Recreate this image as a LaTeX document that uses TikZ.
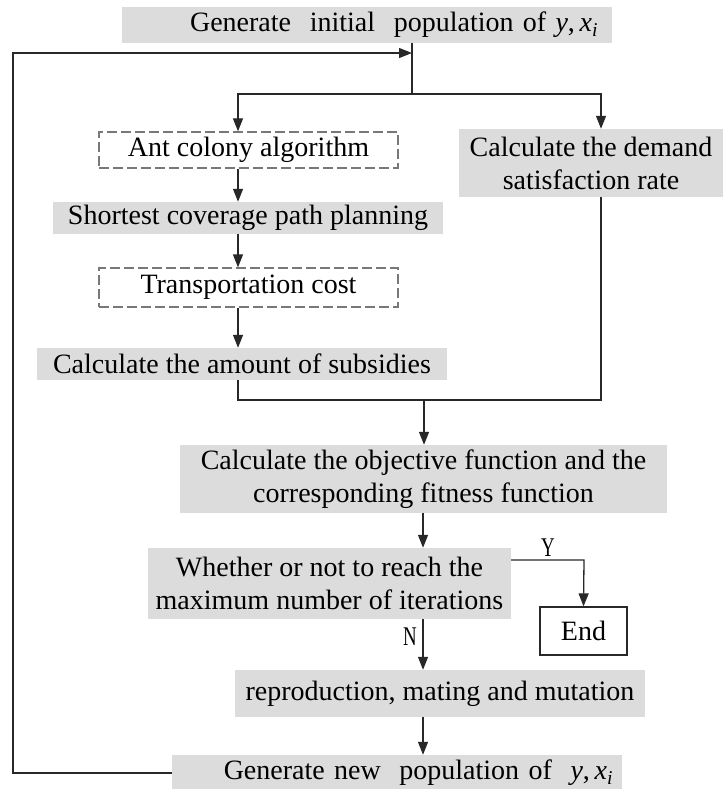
\documentclass[tikz,border=0pt]{standalone}
\usepackage{fontspec}
\usepackage{graphicx}
\setmainfont{Liberation Serif}
\usetikzlibrary{arrows.meta}
\definecolor{boxgray}{RGB}{220,220,220}
\definecolor{dashgray}{RGB}{120,120,120}
\definecolor{linec}{RGB}{40,40,40}
\begin{document}
\begin{tikzpicture}[x=1pt,y=-1pt,
  every node/.style={font=\fontsize{28}{33}\selectfont, inner sep=0pt},
  gbox/.style={fill=boxgray, draw=none, align=center},
  dbox/.style={draw=dashgray, dash pattern=on 10pt off 4pt, line width=1.3pt, align=center},
  ebox/.style={draw=linec, line width=1.3pt},
  conn/.style={draw=linec, line width=1.3pt},
  arr/.style={conn, -{Triangle[length=13pt,width=10pt]}},
  yn/.style={font=\fontsize{27}{28}\selectfont}]
\useasboundingbox (0,0) rectangle (723,789);

% nodes
\node[gbox, minimum width=490pt, minimum height=36pt, inner xsep=14pt, text width=462pt, align=right] (top) at (367,25)
  {Generate\ \ initial\ \ population of \textit{y},\,\textit{x}\textsubscript{\textit{i}}};
\node[dbox, minimum width=299pt, minimum height=36pt] (ant) at (248.5,150) {Ant colony algorithm};
\node[gbox, minimum width=390pt, minimum height=32pt] (short) at (248,218) {Shortest coverage path planning};
\node[dbox, minimum width=299pt, minimum height=39pt] (trans) at (248.5,287.5) {Transportation cost};
\node[gbox, minimum width=410pt, minimum height=32pt] (subs) at (242,364) {Calculate the amount of subsidies};
\node[gbox, minimum width=264pt, minimum height=68pt] (demand) at (591,163) {Calculate the demand\\satisfaction rate};
\node[gbox, minimum width=487pt, minimum height=68pt] (obj) at (423.5,479) {Calculate the objective function and the\\corresponding fitness function};
\node[gbox, minimum width=363pt, minimum height=71pt] (whether) at (329.5,583.5) {Whether or not to reach the\\maximum number of iterations};
\node[ebox, minimum width=87pt, minimum height=48pt] (end) at (583.5,631) {End};
\node[gbox, minimum width=410pt, minimum height=47pt] (repro) at (440,693.5) {reproduction, mating and mutation};
\node[gbox, minimum width=450pt, minimum height=36pt, inner xsep=9pt, text width=432pt, align=right] (gen) at (397,773)
  {Generate new\ \ population of\ \ \textit{y},\,\textit{x}\textsubscript{\textit{i}}};
\node[yn] (ylab) at (548,548) {\scalebox{0.7}[1]{Y}};
\node[yn] (nlab) at (410,637) {\scalebox{0.7}[1]{N}};

% helper coordinates
\coordinate (split) at (412,94);
\coordinate (xL) at (238,0);
\coordinate (xR) at (601,0);
\coordinate (xC) at (423,0);
\coordinate (jl) at (238,400);
\coordinate (jr) at (601,400);
\coordinate (jm) at (424,400);
\coordinate (loopc) at (13,773);
\coordinate (loopend) at (412,53);
\coordinate (yturn) at (584,560);
\coordinate (ystart) at (511,560);

% connectors
\draw[conn] (top.south -| split) -- (split);
\draw[arr] (split) -| (ant.north -| xL);
\draw[arr] (split) -| (demand.north -| xR);
\draw[arr] (ant.south -| xL) -- (short.north -| xL);
\draw[arr] (short.south -| xL) -- (trans.north -| xL);
\draw[arr] (trans.south -| xL) -- (subs.north -| xL);
\draw[conn] (subs.south -| jl) -- (jl) -- (jr) -- (demand.south -| jr);
\draw[arr] (jm) -- (obj.north -| jm);
\draw[arr] (obj.south -| xC) -- (whether.north -| xC);
\draw[arr] (ystart) -- (yturn) -- (end.north);
\draw[arr] (whether.south -| xC) -- (repro.north -| xC);
\draw[arr] (repro.south -| xC) -- (gen.north -| xC);
\draw[arr] (gen.west) -- (loopc) |- (loopend);
\end{tikzpicture}
\end{document}
